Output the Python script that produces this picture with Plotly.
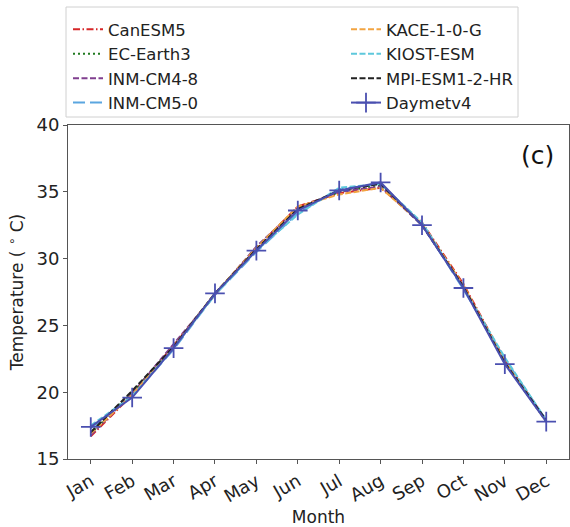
import plotly.graph_objects as go

months = ["Jan", "Feb", "Mar", "Apr", "May", "Jun", "Jul", "Aug", "Sep", "Oct", "Nov", "Dec"]
x_idx = list(range(12))

daymet = [17.4, 19.6, 23.3, 27.4, 30.6, 33.6, 35.1, 35.7, 32.5, 27.8, 22.1, 17.8]
canesm5 = [16.7, 19.8, 23.5, 27.3, 30.8, 33.9, 34.9, 35.3, 32.7, 28.1, 22.4, 17.9]
ec_earth3 = [16.9, 20.0, 23.4, 27.4, 30.7, 33.7, 35.0, 35.5, 32.6, 27.9, 22.2, 17.8]
inm_cm4_8 = [16.8, 19.9, 23.6, 27.3, 30.9, 33.8, 35.0, 35.4, 32.5, 27.9, 22.3, 17.9]
inm_cm5_0 = [17.3, 19.7, 23.2, 27.3, 30.5, 33.4, 35.2, 35.6, 32.6, 27.7, 22.5, 17.9]
kace = [16.9, 19.8, 23.4, 27.4, 30.8, 33.9, 34.8, 35.3, 32.6, 28.0, 22.3, 17.8]
kiost = [17.5, 19.7, 23.3, 27.3, 30.6, 33.3, 35.3, 35.6, 32.7, 27.8, 22.6, 17.9]
mpi = [17.0, 20.1, 23.4, 27.4, 30.7, 33.7, 35.1, 35.6, 32.5, 27.9, 22.2, 17.9]

series = [
    ("CanESM5", canesm5, "#d62728", "7px,2.5px,1.5px,2.5px", "legend"),
    ("EC-Earth3", ec_earth3, "#1f7a1f", "2px,3px", "legend"),
    ("INM-CM4-8", inm_cm4_8, "#803f8f", "6px,2.5px", "legend"),
    ("INM-CM5-0", inm_cm5_0, "#5aa6e0", "12px,5px", "legend"),
    ("KACE-1-0-G", kace, "#f2a441", "6px,2.5px", "legend2"),
    ("KIOST-ESM", kiost, "#5ec8dc", "6px,2.5px", "legend2"),
    ("MPI-ESM1-2-HR", mpi, "#222222", "6px,2.5px", "legend2"),
]

fig = go.Figure()
for name, vals, color, dash, leg in series:
    fig.add_trace(go.Scatter(
        x=x_idx, y=vals, mode="lines", name=name,
        line=dict(color=color, width=2, dash=dash), legend=leg,
    ))
fig.add_trace(go.Scatter(
    x=x_idx, y=daymet, mode="lines+markers", name="Daymetv4",
    line=dict(color="#4a4fb0", width=2),
    marker=dict(symbol="cross-thin", size=14, line=dict(color="#4a4fb0", width=1.8)),
    legend="legend2",
))

W, H = 570, 527
L, R, T, B = 68, 1, 125, 68
pw, ph = W - L - R, H - T - B

def px(xp):
    return (xp - L) / pw

def py(yp):
    return (H - B - yp) / ph

font = "DejaVu Sans"
fig.update_layout(
    width=W, height=H,
    margin=dict(l=L, r=R, t=T, b=B),
    paper_bgcolor="white", plot_bgcolor="white",
    font=dict(family=font, size=17, color="#222222"),
    showlegend=True,
    legend=dict(x=px(68), y=py(12), xanchor="left", yanchor="top",
                bgcolor="rgba(0,0,0,0)", font=dict(size=16.5), tracegroupgap=0,
                itemwidth=30),
    legend2=dict(x=px(346), y=py(12), xanchor="left", yanchor="top",
                 bgcolor="rgba(0,0,0,0)", font=dict(size=16.5), tracegroupgap=0,
                 itemwidth=30),
    shapes=[dict(type="rect", xref="paper", yref="paper",
                 x0=px(66), x1=px(518), y0=py(7), y1=py(117),
                 line=dict(color="#d0d0d0", width=1), fillcolor="rgba(0,0,0,0)", layer="below")],
    annotations=[dict(text="(c)", xref="paper", yref="paper", x=px(556), y=py(155),
                      xanchor="right", yanchor="middle", showarrow=False,
                      font=dict(size=25, color="#111111"))],
)
fig.update_xaxes(
    range=[-0.55, 11.55], tickmode="array", tickvals=x_idx, ticktext=months,
    tickangle=-30, ticks="outside", ticklen=4, tickcolor="#555555",
    tickfont=dict(size=18),
    showline=True, linecolor="#555555", linewidth=1, mirror=True, showgrid=False,
    zeroline=False, title=dict(text="Month", font=dict(size=17), standoff=7),
)
fig.update_yaxes(
    range=[15, 40], tickvals=[15, 20, 25, 30, 35, 40], ticks="outside", ticklen=4,
    tickcolor="#555555", tickfont=dict(size=18),
    showline=True, linecolor="#555555", linewidth=1, mirror=True,
    showgrid=False, zeroline=False,
    title=dict(text="Temperature ( <sup>∘</sup> C)", font=dict(size=17), standoff=8),
)
fig.write_html("out.html")
